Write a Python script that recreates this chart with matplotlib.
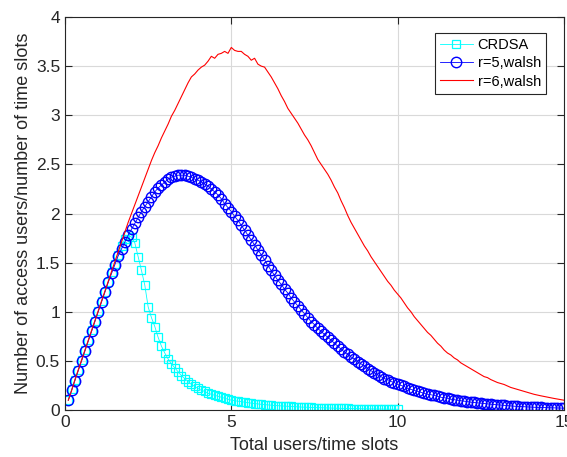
import matplotlib
matplotlib.use('Agg')
import matplotlib.pyplot as plt
import numpy as np

plt.rcParams['font.family'] = ['Liberation Sans', 'DejaVu Sans']

# x grid (load, users per slot)
x_full = np.round(np.arange(1, 151) * 0.1, 2)
x_crdsa = np.round(np.arange(1, 101) * 0.1, 2)

crdsa = [0.10, 0.21, 0.31, 0.41, 0.51, 0.61, 0.71, 0.81, 0.91, 1.01,
         1.11, 1.20, 1.30, 1.40, 1.49, 1.58, 1.67, 1.74, 1.78, 1.76,
         1.70, 1.56, 1.42, 1.27, 1.05, 0.94, 0.85, 0.74, 0.65, 0.58,
         0.52, 0.47, 0.43, 0.39, 0.35, 0.32, 0.29, 0.26, 0.24, 0.22,
         0.20, 0.19, 0.17, 0.16, 0.15, 0.14, 0.13, 0.12, 0.11, 0.10,
         0.095, 0.09, 0.085, 0.08, 0.075, 0.07, 0.066, 0.062, 0.058, 0.055,
         0.052, 0.049, 0.046, 0.044, 0.042, 0.040, 0.038, 0.036, 0.034, 0.032,
         0.030, 0.029, 0.028, 0.026, 0.025, 0.024, 0.023, 0.022, 0.021, 0.020,
         0.019, 0.018, 0.017, 0.016, 0.016, 0.015, 0.014, 0.014, 0.013, 0.012,
         0.012, 0.011, 0.011, 0.010, 0.010, 0.009, 0.009, 0.008, 0.008, 0.008]

r5_walsh = [0.10, 0.20, 0.30, 0.40, 0.50, 0.60, 0.70, 0.80, 0.90, 1.00,
            1.10, 1.20, 1.30, 1.39, 1.48, 1.57, 1.64, 1.71, 1.78, 1.84,
            1.90, 1.96, 2.02, 2.07, 2.12, 2.17, 2.22, 2.26, 2.29, 2.32,
            2.35, 2.37, 2.38, 2.39, 2.39, 2.39, 2.38, 2.37, 2.35, 2.34,
            2.32, 2.30, 2.28, 2.25, 2.22, 2.19, 2.15, 2.10, 2.06, 2.02,
            1.97, 1.93, 1.88, 1.83, 1.78, 1.73, 1.68, 1.63, 1.58, 1.53,
            1.47, 1.42, 1.37, 1.32, 1.28, 1.23, 1.19, 1.14, 1.10, 1.06,
            1.02, 0.98, 0.94, 0.90, 0.87, 0.83, 0.80, 0.77, 0.74, 0.71,
            0.68, 0.65, 0.62, 0.59, 0.57, 0.54, 0.52, 0.49, 0.47, 0.45,
            0.42, 0.40, 0.38, 0.36, 0.34, 0.32, 0.31, 0.29, 0.28, 0.26,
            0.25, 0.24, 0.22, 0.21, 0.20, 0.19, 0.18, 0.17, 0.16, 0.155,
            0.15, 0.14, 0.13, 0.125, 0.12, 0.11, 0.105, 0.10, 0.095, 0.09,
            0.085, 0.08, 0.077, 0.073, 0.07, 0.066, 0.062, 0.059, 0.056, 0.053,
            0.05, 0.047, 0.044, 0.041, 0.039, 0.037, 0.035, 0.033, 0.031, 0.03,
            0.028, 0.027, 0.026, 0.025, 0.024, 0.023, 0.022, 0.021, 0.02, 0.019]

r6_walsh = [0.10, 0.20, 0.31, 0.41, 0.51, 0.61, 0.71, 0.81, 0.91, 1.01,
            1.11, 1.21, 1.31, 1.41, 1.51, 1.61, 1.71, 1.81, 1.91, 2.00,
            2.09, 2.18, 2.27, 2.36, 2.45, 2.54, 2.62, 2.69, 2.77, 2.84,
            2.91, 2.99, 3.05, 3.12, 3.19, 3.26, 3.33, 3.39, 3.42, 3.46,
            3.49, 3.51, 3.55, 3.60, 3.58, 3.62, 3.63, 3.65, 3.63, 3.69,
            3.66, 3.65, 3.65, 3.62, 3.60, 3.56, 3.58, 3.52, 3.50, 3.49,
            3.44, 3.39, 3.33, 3.27, 3.20, 3.14, 3.07, 3.02, 2.97, 2.92,
            2.86, 2.80, 2.75, 2.69, 2.62, 2.55, 2.50, 2.45, 2.40, 2.34,
            2.27, 2.21, 2.13, 2.06, 1.98, 1.91, 1.85, 1.79, 1.73, 1.67,
            1.62, 1.56, 1.51, 1.46, 1.41, 1.36, 1.31, 1.27, 1.22, 1.18,
            1.14, 1.09, 1.04, 1.00, 0.95, 0.91, 0.87, 0.83, 0.79, 0.76,
            0.72, 0.68, 0.65, 0.61, 0.58, 0.56, 0.53, 0.51, 0.48, 0.46,
            0.44, 0.42, 0.40, 0.38, 0.36, 0.34, 0.33, 0.31, 0.295, 0.28,
            0.27, 0.26, 0.245, 0.23, 0.22, 0.21, 0.20, 0.19, 0.18, 0.17,
            0.16, 0.152, 0.145, 0.138, 0.13, 0.124, 0.118, 0.112, 0.106, 0.10]

fig = plt.figure(figsize=(5.67, 4.57), dpi=100)
ax = fig.add_axes([0.1146, 0.1028, 0.88, 0.86])

ax.plot(x_crdsa, crdsa, '-s', color='cyan', lw=0.6, ms=6, mfc='none', mew=0.9,
        label='CRDSA')
ax.plot(x_full, r5_walsh, '-o', color='blue', lw=0.6, ms=7.5, mfc='none', mew=1.0,
        label='r=5,walsh')
ax.plot(x_full, r6_walsh, '-', color='red', lw=0.8, label='r=6,walsh')

ax.set_xlim(0, 15)
ax.set_ylim(0, 4)
ax.set_xticks([0, 5, 10, 15])
ax.set_yticks(np.arange(0, 4.01, 0.5))
ax.set_yticklabels(['0', '0.5', '1', '1.5', '2', '2.5', '3', '3.5', '4'])
ax.grid(True, color='#d9d9d9', lw=0.8)
ax.set_axisbelow(True)
ax.tick_params(direction='in', top=True, right=True, labelsize=12.5, length=5,
               color='#262626', labelcolor='#262626')
for s in ax.spines.values():
    s.set_color('#262626')
    s.set_linewidth(0.8)

ax.set_xlabel('Total users/time slots', fontsize=13, color='#262626', labelpad=5)
ax.set_ylabel('Number of access users/number of time slots', fontsize=13,
              color='#262626', labelpad=3)

leg = ax.legend(loc='upper right', bbox_to_anchor=(0.964, 0.96), fontsize=10.5,
                fancybox=False, framealpha=1, edgecolor='#262626',
                borderpad=0.35, labelspacing=0.3, handlelength=2.3,
                handletextpad=0.3, borderaxespad=0)
leg.get_frame().set_linewidth(0.8)

plt.savefig('out.png', dpi=100)
